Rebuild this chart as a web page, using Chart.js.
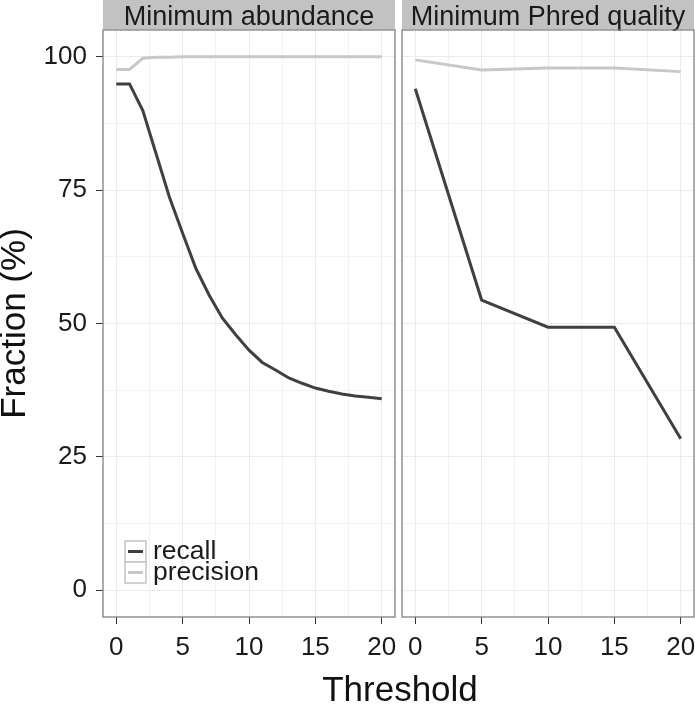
<!DOCTYPE html>
<html>
<head>
<meta charset="utf-8">
<script src="https://cdn.jsdelivr.net/npm/chart.js@4/dist/chart.umd.min.js"></script>
<style>
  body { margin: 0; background: #fff; }
  #wrap { position: relative; width: 695px; height: 704px; overflow: hidden; }
  #left { position: absolute; left: 0; top: 0; }
  #right { position: absolute; left: 395px; top: 0; }
  #xtitle { position: absolute; left: 0; width: 800px; top: 671px; text-align: center;
            font: 35px "Liberation Sans", Arial, sans-serif; line-height: 35px; color: #111; }
</style>
</head>
<body>
<div id="wrap">
  <canvas id="left" width="398" height="704"></canvas>
  <canvas id="right" width="300" height="704"></canvas>
  <div id="xtitle">Threshold</div>
</div>
<script>
// facet titles
var panelTitles = ['Minimum abundance', 'Minimum Phred quality'];
var seriesNames = ['recall', 'precision'];

// left facet: minimum abundance
var abundThreshold = [0, 1, 2, 3, 4, 5, 6, 7, 8, 9, 10, 11, 12, 13, 14, 15, 16, 17, 18, 19, 20];
var abundRecall = [94.9, 94.9, 89.9, 81.8, 73.7, 66.9, 60.3, 55.3, 51.0, 47.9, 45.0, 42.7, 41.3, 39.8, 38.8, 37.9, 37.3, 36.8, 36.4, 36.2, 35.9];
var abundPrecision = [97.6, 97.6, 99.7, 99.9, 99.9, 100, 100, 100, 100, 100, 100, 100, 100, 100, 100, 100, 100, 100, 100, 100, 100];

// right facet: minimum phred quality
var phredThreshold = [0, 5, 10, 15, 20];
var phredRecall = [94.0, 54.4, 49.3, 49.3, 28.4];
var phredPrecision = [99.4, 97.5, 97.9, 97.9, 97.2];

// axis ticks
var xTicks = [0, 5, 10, 15, 20];
var yTicks = [0, 25, 50, 75, 100];

var recallColor = '#404040';
var precisionColor = '#c8c8c8';
var fontFamily = '"Liberation Sans", Arial, sans-serif';
Chart.defaults.font.family = fontFamily;
Chart.defaults.color = '#222';

// major ticks plus the minor ones half way between
function withMinor(major) {
    var out = [];
    for (var i = 0; i < major.length; i++) {
        out.push(major[i]);
        if (i < major.length - 1) out.push((major[i] + major[i + 1]) / 2);
    }
    return out;
}
var xGrid = withMinor(xTicks);
var yGrid = withMinor(yTicks);

function pts(xs, ys) {
    return xs.map(function (x, i) { return { x: x, y: ys[i] }; });
}

// gray strip on top + panel border
var facetPlugin = {
    id: 'facet',
    beforeDraw: function (chart, args, opts) {
        var c = chart.ctx, a = chart.chartArea;
        c.save();
        c.fillStyle = '#c2c2c2';
        c.fillRect(a.left, 0, a.right - a.left, a.top - 0.5);
        c.fillStyle = '#1a1a1a';
        c.font = '27px ' + fontFamily;
        c.textAlign = 'center';
        c.textBaseline = 'alphabetic';
        c.fillText(opts.text, (a.left + a.right) / 2, 24.5);
        c.restore();
    },
    afterDatasetsDraw: function (chart) {
        var c = chart.ctx, a = chart.chartArea;
        c.save();
        c.strokeStyle = '#808080';
        c.lineWidth = 1.3;
        c.strokeRect(a.left, a.top, a.right - a.left, a.bottom - a.top);
        c.restore();
    }
};

// ggplot style legend inside the left panel
var keyPlugin = {
    id: 'keyLegend',
    afterDraw: function (chart, args, opts) {
        if (!opts.show) return;
        var c = chart.ctx;
        var x0 = 125, y0 = 541, size = 21;
        var cols = [recallColor, precisionColor];
        c.save();
        for (var i = 0; i < seriesNames.length; i++) {
            var y = y0 + i * size;
            c.fillStyle = '#fff';
            c.fillRect(x0, y, size, size);
            c.strokeStyle = '#c4c4c4';
            c.lineWidth = 1.5;
            c.strokeRect(x0, y, size, size);
            c.strokeStyle = cols[i];
            c.lineWidth = 3;
            c.beginPath();
            c.moveTo(x0 + 3, y + size / 2);
            c.lineTo(x0 + size - 3, y + size / 2);
            c.stroke();
            c.fillStyle = '#1a1a1a';
            c.font = '26.5px ' + fontFamily;
            c.textAlign = 'left';
            c.textBaseline = 'middle';
            c.fillText(seriesNames[i], x0 + 28, y + size / 2);
        }
        c.restore();
    }
};

function makeChart(id, xs, recall, precision, title, isLeft) {
    return new Chart(document.getElementById(id), {
        type: 'line',
        data: {
            datasets: [
                { label: seriesNames[1], data: pts(xs, precision), borderColor: precisionColor, borderWidth: 3, pointRadius: 0, tension: 0 },
                { label: seriesNames[0], data: pts(xs, recall), borderColor: recallColor, borderWidth: 3, pointRadius: 0, tension: 0 }
            ]
        },
        options: {
            responsive: false,
            animation: false,
            layout: { autoPadding: false, padding: { left: isLeft ? 0 : 7, right: isLeft ? 3 : 1, top: 30, bottom: 0 } },
            plugins: {
                legend: { display: false },
                tooltip: { enabled: false },
                facet: { text: title },
                keyLegend: { show: isLeft }
            },
            scales: {
                x: {
                    type: 'linear', min: -1, max: 21,
                    afterBuildTicks: function (s) { s.ticks = xGrid.map(function (v) { return { value: v }; }); },
                    afterFit: function (s) { s.height = 87; s.paddingLeft = 0; s.paddingRight = 0; },
                    border: { display: false },
                    grid: {
                        color: function (ctx) { return ctx.tick && ctx.tick.value % 5 === 0 ? '#ebebeb' : '#f3f3f3'; },
                        tickColor: function (ctx) { return ctx.tick && ctx.tick.value % 5 === 0 ? '#333' : 'rgba(0,0,0,0)'; },
                        tickLength: 7, lineWidth: 1
                    },
                    ticks: {
                        autoSkip: false, maxRotation: 0, padding: 8,
                        font: { size: 26 }, color: '#1a1a1a',
                        callback: function (v) { return xTicks.indexOf(v) >= 0 ? String(v) : ''; }
                    }
                },
                y: {
                    min: -5, max: 105,
                    afterBuildTicks: function (s) { s.ticks = yGrid.map(function (v) { return { value: v }; }); },
                    afterFit: function (s) { s.width = isLeft ? 103 : 0; s.paddingTop = 0; s.paddingBottom = 0; },
                    border: { display: false },
                    title: { display: isLeft, text: 'Fraction (%)', font: { size: 35, lineHeight: 0.85 }, color: '#111', padding: 0 },
                    grid: {
                        drawTicks: isLeft,
                        color: function (ctx) { return ctx.tick && ctx.tick.value % 25 === 0 ? '#ebebeb' : '#f3f3f3'; },
                        tickColor: function (ctx) { return ctx.tick && ctx.tick.value % 25 === 0 ? '#333' : 'rgba(0,0,0,0)'; },
                        tickLength: 7, lineWidth: 1
                    },
                    ticks: {
                        display: isLeft, autoSkip: false, padding: 9,
                        font: { size: 26 }, color: '#1a1a1a',
                        callback: function (v) { return yTicks.indexOf(v) >= 0 ? String(v) : ''; }
                    }
                }
            }
        },
        plugins: [facetPlugin, keyPlugin]
    });
}

makeChart('left', abundThreshold, abundRecall, abundPrecision, panelTitles[0], true);
makeChart('right', phredThreshold, phredRecall, phredPrecision, panelTitles[1], false);
</script>
</body>
</html>
